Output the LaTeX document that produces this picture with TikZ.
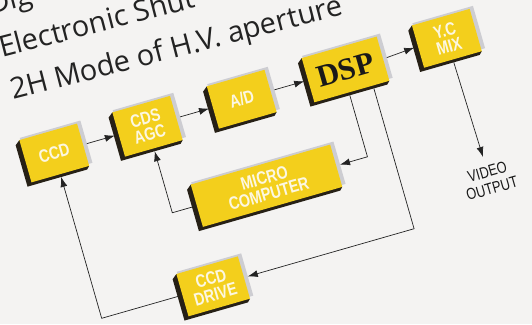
\documentclass[tikz,border=0pt]{standalone}
\usepackage{fontspec}
\setmainfont{Open Sans}
\newfontfamily\condf[FakeStretch=0.8]{Liberation Sans}
\newfontfamily\serifb{Liberation Serif}
\usetikzlibrary{arrows.meta,calc}
\definecolor{bg}{RGB}{244,243,242}
\definecolor{boxy}{RGB}{243,207,28}
\definecolor{sidec}{RGB}{38,32,22}
\definecolor{bandc}{RGB}{205,205,210}
\definecolor{linec}{RGB}{35,35,35}
\definecolor{titlec}{RGB}{35,35,35}
\definecolor{lbl}{RGB}{252,247,225}
\tikzset{
  titletext/.style={font=\fontsize{29}{29}\selectfont, text=titlec, anchor=base west, inner sep=0pt, rotate=14.5},
  blkbox/.style={fill=boxy, draw=none, inner sep=0pt, outer xsep=4pt, outer ysep=3pt, align=center,
     text=lbl, font=\condf\bfseries\fontsize{18}{16.5}\selectfont},
  dspfont/.style={text=black!90, font=\serifb\bfseries\fontsize{31}{31}\selectfont},
  votext/.style={align=center, text=black!90, font=\condf\fontsize{16}{17}\selectfont},
  arr/.style={draw=linec, line width=0.7pt, -{Latex[length=10pt,width=7pt]}},
}
\newcommand\blk[7][]{%
  \fill[bandc] ({#3-#5/2+1},{#4-#6/2-2}) rectangle ({#3+#5/2+4},{#4+#6/2-2});
  \fill[sidec] ({#3-#5/2},{#4-#6/2}) -- ++(-5,4) -- ({#3-#5/2-5},{#4+#6/2+3})
     -- ({#3+#5/2-3},{#4+#6/2+3}) -- ({#3+#5/2},{#4+#6/2}) -- cycle;
  \node[blkbox, minimum width=#5pt, minimum height=#6pt, #1] (#2) at (#3,#4) {#7};
}
\begin{document}
\begin{tikzpicture}[x=1pt,y=1pt]
\fill[bg] (0,0) rectangle (532,-324);
\useasboundingbox (0,0) rectangle (532,-324);
\clip (0,0) rectangle (532,-324);
% title lines
\node[titletext] (t1) at (-9,-15) {Dig};
\node[titletext] (t2) at (2,-57.5) {Electronic Shut};
\node[titletext] (t3) at (13,-100) {2H Mode of H.V. aperture};
\begin{scope}[y=-1pt, rotate=16, transform shape]
  \blk{ccd}{10}{162}{60}{44}{CCD}
  \blk{cds}{107}{162}{60}{46}{CDS\\AGC}
  \blk{ad}{205}{162}{60}{44}{A/D}
  \blk[dspfont]{dsp}{313}{162}{78}{46}{DSP}
  \blk{yc}{419}{160}{60}{44}{Y.C\\MIX}
  \blk{micro}{205}{252}{145}{44}{MICRO\\COMPUTER}
  \blk{drive}{126}{334}{64}{44}{CCD\\DRIVE}
  \node[votext, anchor=north, inner sep=0pt, outer ysep=10pt] (vo) at (421,284) {VIDEO\\OUTPUT};
  \coordinate (c1) at (310,252);
  \coordinate (c2) at (335,334);
  \coordinate (c3) at (107,252);
  \coordinate (c4) at (10,334);
  \draw[arr] (ccd.east) -- (cds.west);
  \draw[arr] (cds.east) -- (ad.west);
  \draw[arr] (ad.east) -- (dsp.west);
  \draw[arr] (dsp.east) -- (yc.west);
  \draw[arr] (yc.south) -- (vo.north);
  \draw[arr] ($(dsp.south west)!0.465!(dsp.south east)$) -- (c1) -- (micro.east);
  \draw[arr] ($(dsp.south west)!0.756!(dsp.south east)$) -- (c2) -- (drive.east);
  \draw[arr] (micro.west) -- (c3) -- (cds.south);
  \draw[arr] (drive.west) -- (c4) -- (ccd.south);
\end{scope}
\end{tikzpicture}
\end{document}
